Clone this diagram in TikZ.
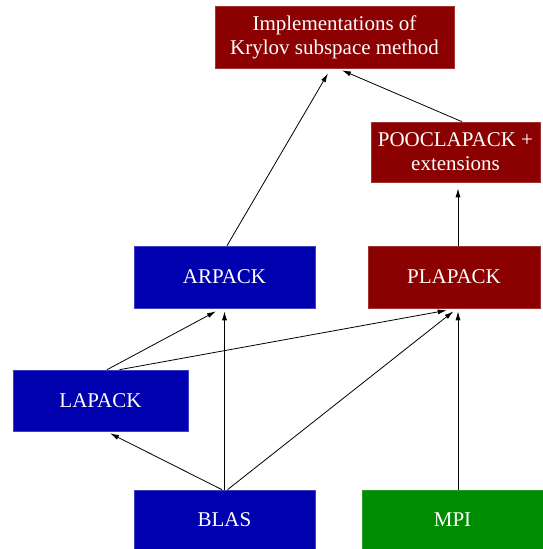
\documentclass[tikz,border=0pt]{standalone}
\usepackage{fontspec}
\setmainfont{Liberation Serif}
\usetikzlibrary{arrows.meta}
\definecolor{dred}{RGB}{139,0,0}
\definecolor{dblue}{RGB}{0,0,175}
\definecolor{dgreen}{RGB}{0,140,0}
\begin{document}
\begin{tikzpicture}[x=1pt,y=1pt,
  box/.style={rectangle, inner sep=0pt, text=white, align=center,
    font=\fontsize{21}{24}\selectfont, line width=0.6pt},
  redbox/.style={box, fill=dred, draw=dred!80!white},
  bluebox/.style={box, fill=dblue, draw=dblue!75!white},
  greenbox/.style={box, fill=dgreen, draw=dgreen!85!white},
  conn/.style={line width=0.8pt, -{Latex[length=9pt,width=5pt]}}]
\useasboundingbox (0,0) rectangle (543,549);
\node[redbox, minimum width=239pt, minimum height=62pt] (krylov) at (334.5,512) {Implementations of\\Krylov subspace method};
\node[redbox, minimum width=169pt, minimum height=60pt] (poocl) at (455.5,397) {POOCLAPACK +\\extensions};
\node[bluebox, minimum width=181pt, minimum height=62pt] (arpack) at (224.5,272) {ARPACK};
\node[redbox, minimum width=172pt, minimum height=62pt] (plapack) at (454,272) {PLAPACK};
\node[bluebox, minimum width=175pt, minimum height=61pt] (lapack) at (100.5,148.5) {LAPACK};
\node[bluebox, minimum width=181pt, minimum height=59pt] (blas) at (224.5,29.5) {BLAS};
\node[greenbox, minimum width=181pt, minimum height=59pt] (mpi) at (452.5,29.5) {MPI};

\draw[conn] ([xshift=2.5pt]arpack.north) -- ([xshift=-6.5pt,yshift=-5pt]krylov.south);
\draw[conn] ([xshift=6.5pt]poocl.north) -- ([xshift=7.5pt,yshift=-2pt]krylov.south);
\draw[conn] ([xshift=4pt]plapack.north) -- ([xshift=2.5pt,yshift=-6pt]poocl.south);
\draw[conn] ([xshift=6.5pt]lapack.north) -- ([xshift=-8.5pt,yshift=-3pt]arpack.south);
\draw[conn] ([xshift=19pt]lapack.north) -- ([xshift=-7.3pt,yshift=-2pt]plapack.south);
\draw[conn] ([xshift=-2.5pt]blas.north) -- ([xshift=9.5pt,yshift=-2pt]lapack.south);
\draw[conn] (blas.north) -- ([yshift=-3pt]arpack.south);
\draw[conn] ([xshift=3pt]blas.north) -- ([xshift=-0.5pt,yshift=-3pt]plapack.south);
\draw[conn] ([xshift=5.5pt]mpi.north) -- ([xshift=4pt,yshift=-3pt]plapack.south);
\end{tikzpicture}
\end{document}
